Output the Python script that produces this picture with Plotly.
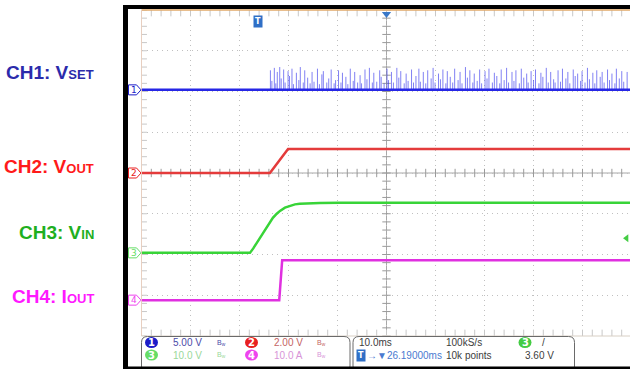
import plotly.graph_objects as go

# ---------------- canvas / screen geometry (pixels) ----------------
W, H = 630, 369
GRID_LEFT, GRID_TOP = 141.5, 10.0
DIV_W, DIV_H = 49.0, 40.75
H_DIVS, V_DIVS = 10, 8

# ---------------- acquisition settings ----------------
time_per_div = 10.0          # ms/div
horiz_delay = 26.19          # ms, trigger -> screen centre
trigger_level = 3.60         # V on CH3
sample_rate_label = "100kS/s"
record_label = "10k points"

# ---------------- channels ----------------
channel_ids = [1, 2, 3, 4]
channel_scales = [5.0, 2.0, 10.0, 10.0]          # per division
channel_units = ["V", "V", "V", "A"]
channel_offsets = [2.04, 0.0, -1.96, -3.12]      # ground level, divisions
trace_colors = ["#2626e6", "#e43b3b", "#38d438", "#e030e0"]
tag_colors = ["#1c1cc8", "#e82020", "#66dd66", "#ee44ee"]
readout_colors = ["#4a4aa8", "#c46464", "#9ad89a", "#d894d8"]
label_colors = ["#2b2bab", "#ff1a1a", "#1faf1f", "#ff19ff"]
label_main = ["CH1: V", "CH2: V", "CH3: V", "CH4: I"]
label_sub = ["SET", "OUT", "IN", "OUT"]

# CH1  V_SET : baseline with pulses once the supply comes up (ms, V)
ch1_t = [-23.81, 76.19]
ch1_v = [0.0, 0.0]
ch1_pulse_t = [
    2.5, 2.8, 3.3, 3.6, 3.9, 4.4, 4.7, 5.2, 5.5, 6.1,
    6.4, 6.9, 7.2, 7.8, 8.3, 8.6, 9.2, 9.5, 10.1, 10.6,
    11.0, 11.4, 12.1, 12.5, 13.0, 13.3, 14.0, 14.4, 14.9, 15.5,
    15.8, 16.4, 16.9, 17.2, 17.9, 18.3, 18.8, 19.4, 19.7, 20.3,
    20.8, 21.1, 21.8, 22.2, 22.7, 23.3, 23.6, 24.2, 24.8, 25.1,
    25.7, 26.3, 26.6, 27.2, 27.6, 28.3, 28.7, 29.1, 29.8, 30.2,
    30.6, 31.3, 31.7, 32.2, 32.8, 33.1, 33.7, 34.2, 34.6, 35.3,
    35.7, 36.1, 36.8, 37.2, 37.7, 38.3, 38.6, 39.2, 39.7, 40.1,
    40.8, 41.2, 41.6, 42.3, 42.7, 43.2, 43.8, 44.1, 44.7, 45.2,
    45.6, 46.3, 46.7, 47.1, 47.8, 48.2, 48.7, 49.3, 49.6, 50.2,
    50.7, 51.1, 51.8, 52.2, 52.6, 53.3, 53.7, 54.2, 54.8, 55.1,
    55.7, 56.2, 56.6, 57.3, 57.7, 58.1, 58.8, 59.2, 59.7, 60.3,
    60.6, 61.2, 61.7, 62.1, 62.8, 63.2, 63.6, 64.3, 64.7, 65.2,
    65.8, 66.1, 66.7, 67.2, 67.6, 68.3, 68.7, 69.1, 69.8, 70.2,
    70.6, 71.3, 71.7, 72.2, 72.8, 73.1, 73.7, 74.2, 74.6, 75.3,
]
ch1_pulse_v = [
    2.4, 1.1, 2.7, 0.8, 2.2, 2.8, 1.4, 2.5, 0.9, 2.3,
    1.7, 2.6, 0.7, 2.1, 1.2, 2.8, 0.9, 2.4, 1.5, 0.8,
    2.2, 1.0, 2.6, 0.7, 1.9, 2.3, 0.9, 1.4, 2.5, 0.8,
    1.2, 2.4, 0.9, 2.1, 1.6, 0.7, 2.6, 1.1, 2.2, 0.9,
    1.8, 0.8, 2.5, 1.3, 2.7, 0.9, 2.1, 1.0, 2.4, 1.6,
    0.8, 2.6, 1.2, 2.2, 0.9, 2.7, 1.5, 2.3, 0.8, 2.0,
    1.1, 2.5, 0.9, 1.7, 2.6, 1.0, 2.2, 0.8, 2.4, 1.4,
    2.7, 0.9, 2.0, 1.3, 2.5, 0.8, 2.3, 1.6, 0.9, 2.6,
    1.2, 2.2, 0.8, 2.8, 1.5, 2.4, 0.9, 2.0, 1.1, 2.5,
    0.8, 2.3, 1.4, 2.6, 0.9, 2.1, 1.7, 0.8, 2.5, 1.2,
    2.7, 0.9, 2.2, 1.1, 2.4, 0.8, 2.6, 1.5, 2.0, 0.9,
    2.3, 1.2, 2.5, 0.8, 2.1, 1.6, 2.7, 0.9, 2.2, 1.3,
    0.9, 2.4, 1.0, 2.6, 1.4, 2.2, 0.8, 2.5, 1.7, 2.0,
    1.1, 2.3, 0.9, 2.7, 1.3, 2.1, 0.8, 2.4, 1.6, 2.2,
    0.9, 2.5, 1.2, 2.0, 0.8, 2.6, 1.4, 2.3, 1.0, 2.2,
]

# CH2  V_OUT
ch2_t = [-23.81, 2.4, 6.1, 76.19]
ch2_v = [0.0, 0.0, 1.18, 1.18]

# CH3  V_IN
ch3_t = [-23.81, -1.67, -1.0, -0.3, 0.37, 1.0, 1.8, 2.41, 3.0, 3.8, 4.45,
         5.47, 6.49, 7.5, 8.5, 10.6, 12.6, 16.7, 76.19]
ch3_v = [0.0, 0.0, 1.1, 2.4, 3.8, 5.0, 6.5, 7.7, 8.6, 9.6, 10.3,
         11.1, 11.6, 11.9, 12.05, 12.2, 12.25, 12.3, 12.3]

# CH4  I_OUT
ch4_t = [-23.81, 4.3, 4.9, 76.19]
ch4_v = [0.0, 0.0, 9.8, 9.8]

# ---------------- helpers ----------------
t_left = horiz_delay - H_DIVS / 2 * time_per_div
t_right = t_left + (W - GRID_LEFT) / DIV_W * time_per_div


def px(x):
    return x / W


def py(y):
    return 1 - y / H


def to_div(values, ch):
    return [channel_offsets[ch] + v / channel_scales[ch] for v in values]


def rounded_rect(x0, y0, x1, y1, r):
    return (f"M {px(x0 + r)},{py(y0)} L {px(x1 - r)},{py(y0)} "
            f"Q {px(x1)},{py(y0)} {px(x1)},{py(y0 + r)} L {px(x1)},{py(y1 - r)} "
            f"Q {px(x1)},{py(y1)} {px(x1 - r)},{py(y1)} L {px(x0 + r)},{py(y1)} "
            f"Q {px(x0)},{py(y1)} {px(x0)},{py(y1 - r)} L {px(x0)},{py(y0 + r)} "
            f"Q {px(x0)},{py(y0)} {px(x0 + r)},{py(y0)} Z")


fig = go.Figure()

# ---------------- graticule ----------------
GRID_COL = "#c0c0c0"
minor_t = [t_left + i * time_per_div / 5 for i in range(H_DIVS * 5 + 1)]
minor_y = [-V_DIVS / 2 + i / 5 for i in range(V_DIVS * 5 + 1)]

# tick marks on centre lines and on the screen edges
fig.add_trace(go.Scatter(x=minor_t, y=[0] * len(minor_t), mode="markers",
                         marker=dict(symbol="line-ns", size=6, line=dict(width=1, color="#9a9a9a")),
                         hoverinfo="skip", showlegend=False))
fig.add_trace(go.Scatter(x=[horiz_delay] * len(minor_y), y=minor_y, mode="markers",
                         marker=dict(symbol="line-ew", size=6, line=dict(width=1, color="#9a9a9a")),
                         hoverinfo="skip", showlegend=False))
fig.add_trace(go.Scatter(x=minor_t + minor_t, y=[3.93] * len(minor_t) + [-3.93] * len(minor_t),
                         mode="markers",
                         marker=dict(symbol="line-ns", size=5, line=dict(width=1, color="#c8c8c8")),
                         hoverinfo="skip", showlegend=False))
fig.add_trace(go.Scatter(x=[t_left + 0.4] * len(minor_y), y=minor_y, mode="markers",
                         marker=dict(symbol="line-ew", size=5, line=dict(width=1, color="#c8c8c8")),
                         hoverinfo="skip", showlegend=False))

# ---------------- waveforms ----------------
pulse_x, pulse_y = [], []
for t, v in zip(ch1_pulse_t, ch1_pulse_v):
    pulse_x += [t, t, None]
    pulse_y += [channel_offsets[0], channel_offsets[0] + v / channel_scales[0], None]
fig.add_trace(go.Scatter(x=pulse_x, y=pulse_y, mode="lines",
                         line=dict(color="rgba(45,45,235,0.6)", width=1),
                         hoverinfo="skip", showlegend=False))

for ch, (tt, vv) in enumerate([(ch1_t, ch1_v), (ch2_t, ch2_v), (ch3_t, ch3_v), (ch4_t, ch4_v)]):
    fig.add_trace(go.Scatter(x=tt, y=to_div(vv, ch), mode="lines",
                             line=dict(color=trace_colors[ch], width=2.5),
                             hoverinfo="skip", showlegend=False))

# trigger position (top centre) and trigger level (right edge) markers
fig.add_trace(go.Scatter(x=[horiz_delay], y=[3.9], mode="markers",
                         marker=dict(symbol="triangle-down", size=8, color="#3a78c8"),
                         cliponaxis=False, hoverinfo="skip", showlegend=False))
fig.add_trace(go.Scatter(x=[t_right - 0.7], y=[channel_offsets[2] + trigger_level / channel_scales[2]],
                         mode="markers", marker=dict(symbol="triangle-left", size=7, color="#44cc44"),
                         cliponaxis=False, hoverinfo="skip", showlegend=False))

shapes = []
annotations = []

# centre cross
shapes.append(dict(type="line", xref="x", yref="y", x0=t_left, x1=t_right, y0=0, y1=0,
                   line=dict(color="#a8a8a8", width=1), layer="below"))
shapes.append(dict(type="line", xref="x", yref="y", x0=horiz_delay, x1=horiz_delay, y0=-4, y1=4,
                   line=dict(color="#a8a8a8", width=1), layer="below"))
# screen edges
shapes.append(dict(type="line", xref="paper", yref="paper", x0=px(GRID_LEFT), x1=1,
                   y0=py(GRID_TOP), y1=py(GRID_TOP), line=dict(color="#e0a868", width=1.5)))
shapes.append(dict(type="line", xref="paper", yref="paper", x0=px(GRID_LEFT), x1=px(GRID_LEFT),
                   y0=py(GRID_TOP), y1=py(GRID_TOP + V_DIVS * DIV_H), line=dict(color="#e8cfc0", width=1)))
shapes.append(dict(type="line", xref="paper", yref="paper", x0=px(GRID_LEFT), x1=1,
                   y0=py(GRID_TOP + V_DIVS * DIV_H), y1=py(GRID_TOP + V_DIVS * DIV_H),
                   line=dict(color="#d8cfc4", width=1)))

# black bezel
shapes.append(dict(type="rect", xref="paper", yref="paper", x0=px(123), x1=px(128), y0=0, y1=py(5),
                   fillcolor="black", line=dict(width=0)))
shapes.append(dict(type="rect", xref="paper", yref="paper", x0=px(123), x1=1, y0=py(9), y1=py(5),
                   fillcolor="black", line=dict(width=0)))

# ground reference tags at the left edge
tag_h = 5 / DIV_H
for ch in range(4):
    yc = channel_offsets[ch]
    path = (f"M {px(128.5)},{yc - tag_h} L {px(136.5)},{yc - tag_h} L {px(141)},{yc} "
            f"L {px(136.5)},{yc + tag_h} L {px(128.5)},{yc + tag_h} Z")
    shapes.append(dict(type="path", xref="paper", yref="y", path=path,
                       fillcolor="white", line=dict(color=tag_colors[ch], width=1)))
    annotations.append(dict(xref="paper", yref="y", x=px(133.5), y=yc, text=str(channel_ids[ch]),
                            showarrow=False, font=dict(size=9, color=tag_colors[ch], family="DejaVu Sans"),
                            xanchor="center", yanchor="middle"))

# trigger point flag
annotations.append(dict(xref="x", yref="paper", x=0, y=py(22), text="<b>T</b>", showarrow=False,
                        bgcolor="#2f6fc6", borderpad=1, font=dict(size=8, color="white", family="DejaVu Sans"),
                        xanchor="center", yanchor="middle"))

# channel captions on the left
for ch in range(4):
    y_center = [73, 166, 232, 296][ch]
    annotations.append(dict(
        xref="paper", yref="paper", x=px(96), y=py(y_center),
        text=f"<b>{label_main[ch]}<span style='font-size:13px'>{label_sub[ch]}</span></b>",
        showarrow=False, xanchor="right", yanchor="middle",
        font=dict(size=19, color=label_colors[ch], family="Liberation Sans, Arial, sans-serif")))

# readout panel
shapes.append(dict(type="path", xref="paper", yref="paper", path=rounded_rect(141.5, 336.5, 350, 372, 6),
                   fillcolor="white", line=dict(color="#6a6a6a", width=1)))
shapes.append(dict(type="path", xref="paper", yref="paper", path=rounded_rect(353, 336.5, 574.5, 372, 6),
                   fillcolor="white", line=dict(color="#6a6a6a", width=1)))
# black bottom bar on top of the panel boxes
shapes.append(dict(type="rect", xref="paper", yref="paper", x0=px(123), x1=1, y0=0, y1=py(366.5),
                   fillcolor="black", line=dict(width=0)))

FONT = "Liberation Sans, Arial, sans-serif"
FS = 10
row_y = [342.5, 355]
col_x = [151.5, 251.5]
for ch in range(4):
    row, col = ch // 2, ch % 2
    cx, cy = col_x[col], row_y[row]
    shapes.append(dict(type="circle", xref="paper", yref="paper",
                       x0=px(cx - 6.5), x1=px(cx + 6.5), y0=py(cy + 5.5), y1=py(cy - 5.5),
                       fillcolor=tag_colors[ch], line=dict(width=0)))
    annotations.append(dict(xref="paper", yref="paper", x=px(cx), y=py(cy), text=f"<b>{channel_ids[ch]}</b>",
                            showarrow=False, xanchor="center", yanchor="middle",
                            font=dict(size=10, color="white", family="DejaVu Sans")))
    scale_txt = (f"{channel_scales[ch]:.2f} {channel_units[ch]}" if channel_scales[ch] < 10
                 else f"{channel_scales[ch]:.1f} {channel_units[ch]}")
    annotations.append(dict(xref="paper", yref="paper", x=px(cx + 20), y=py(cy), text=scale_txt,
                            showarrow=False, xanchor="left", yanchor="middle",
                            font=dict(size=FS, color=readout_colors[ch], family=FONT)))
    annotations.append(dict(xref="paper", yref="paper", x=px(cx + 70), y=py(cy),
                            text="B<sub>w</sub>", showarrow=False, xanchor="center", yanchor="middle",
                            font=dict(size=7, color=readout_colors[ch], family=FONT)))

# timebase readout
timebase = [
    (357, row_y[0], f"{time_per_div:.1f}ms", "#3c3c3c"),
    (444, row_y[0], sample_rate_label, "#3c3c3c"),
    (444, row_y[1], record_label, "#3c3c3c"),
    (523, row_y[1], f"{trigger_level:.2f} V", "#3c3c3c"),
    (540, row_y[0], "/", "#3c3c3c"),
    (365, row_y[1], f"→▼{horiz_delay:.5f}ms", "#4a7ad0"),
]
for x, y, txt, col in timebase:
    annotations.append(dict(xref="paper", yref="paper", x=px(x), y=py(y), text=txt, showarrow=False,
                            xanchor="left", yanchor="middle", font=dict(size=FS, color=col, family=FONT)))
annotations.append(dict(xref="paper", yref="paper", x=px(361), y=py(row_y[1]), text="<b>T</b>",
                        showarrow=False, bgcolor="#2f6fc6", borderpad=1, xanchor="center", yanchor="middle",
                        font=dict(size=8, color="white", family="DejaVu Sans")))
shapes.append(dict(type="circle", xref="paper", yref="paper", x0=px(518.5), x1=px(531.5),
                   y0=py(row_y[0] + 5.5), y1=py(row_y[0] - 5.5), fillcolor="#44cc44", line=dict(width=0)))
annotations.append(dict(xref="paper", yref="paper", x=px(525), y=py(row_y[0]), text="<b>3</b>",
                        showarrow=False, xanchor="center", yanchor="middle",
                        font=dict(size=10, color="white", family="DejaVu Sans")))

fig.update_layout(
    width=W, height=H, margin=dict(l=0, r=0, t=0, b=0),
    paper_bgcolor="white", plot_bgcolor="white",
    shapes=shapes, annotations=annotations, showlegend=False,
    xaxis=dict(domain=[px(GRID_LEFT), 1], range=[t_left, t_right], showticklabels=False,
               ticks="", zeroline=False, showline=False,
               tick0=t_left, dtick=time_per_div, showgrid=True,
               gridcolor=GRID_COL, gridwidth=1, griddash="1px,4px"),
    yaxis=dict(domain=[py(GRID_TOP + V_DIVS * DIV_H), py(GRID_TOP)], range=[-V_DIVS / 2, V_DIVS / 2],
               showticklabels=False, ticks="", zeroline=False, showline=False,
               tick0=-4, dtick=1, showgrid=True,
               gridcolor=GRID_COL, gridwidth=1, griddash="1px,4px"),
)

fig.write_html("out.html")
